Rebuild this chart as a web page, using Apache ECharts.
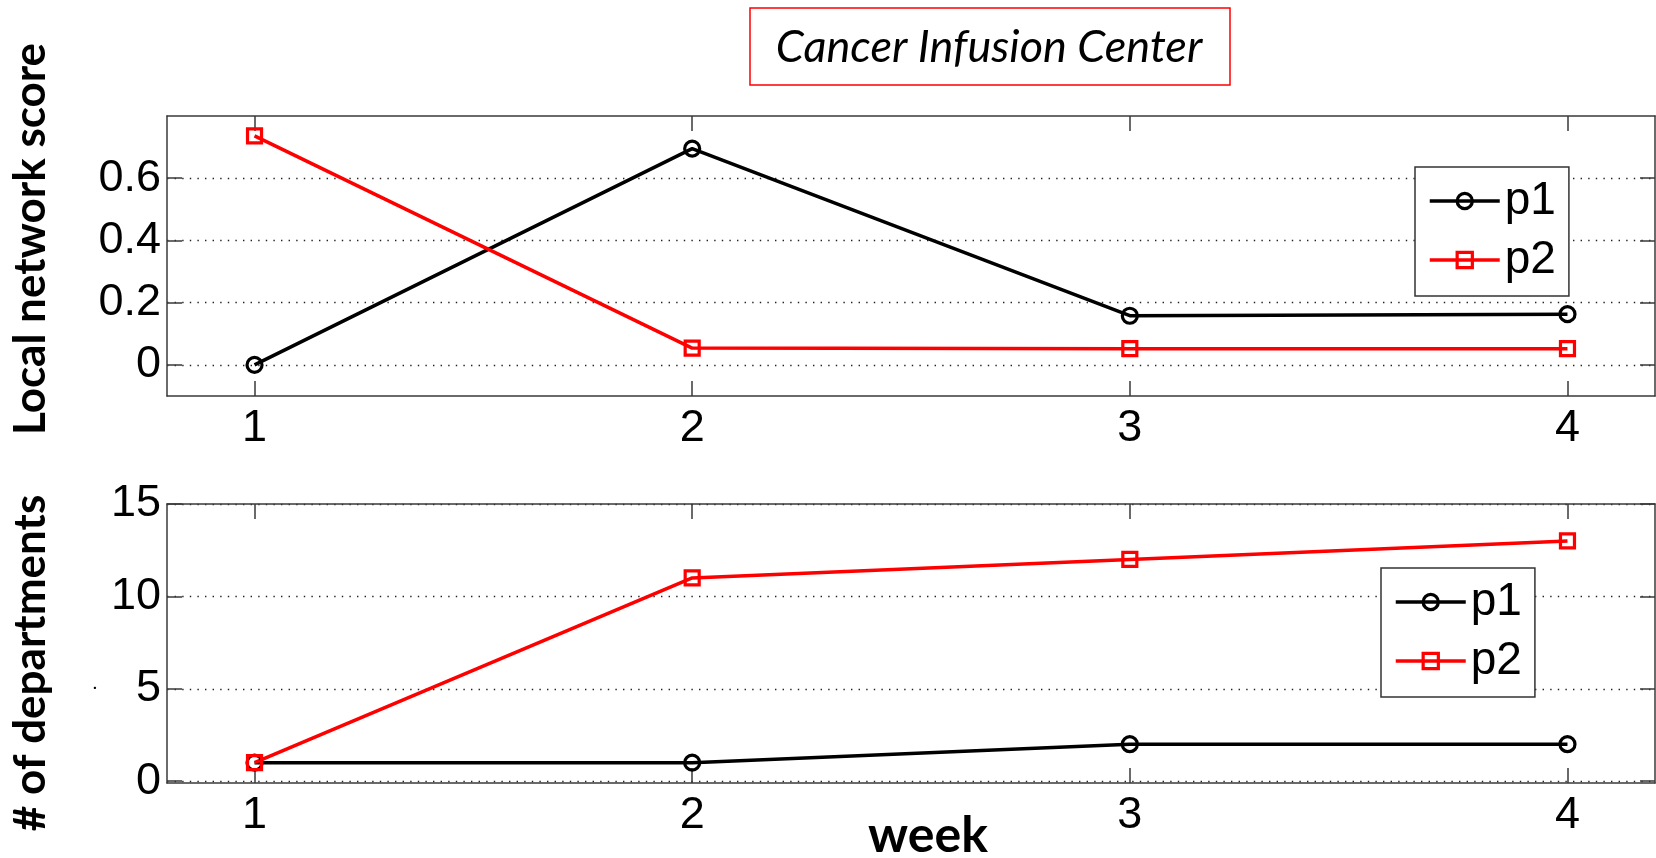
<!DOCTYPE html>
<html>
<head>
<meta charset="utf-8">
<script src="https://cdn.jsdelivr.net/npm/echarts@6/dist/echarts.min.js"></script>
<style>
html,body{margin:0;padding:0;background:#fff;}
#chart{width:1656px;height:858px;}
</style>
</head>
<body>
<div id="chart"></div>
<script>
// ---- data ----
const weeks = [1, 2, 3, 4];
const weekTicks = [1, 2, 3, 4];
const scoreP1 = [0, 0.695, 0.158, 0.163];
const scoreP2 = [0.736, 0.054, 0.052, 0.052];
const deptP1 = [1, 1, 2, 2];
const deptP2 = [1, 11, 12, 13];
const scoreTicks = [0, 0.2, 0.4, 0.6];
const deptTicks = [0, 5, 10, 15];
const seriesNames = ['p1', 'p2'];
const titleText = 'Cancer Infusion Center';
const yName1 = 'Local network score';
const yName2 = '# of departments';
const xName = 'week';

const pairs = (ys) => weeks.map((w, i) => [w, ys[i]]);

const axisColor = '#3a3a3a';
const tickFont = {fontFamily: 'Liberation Sans', fontSize: 45, color: '#000'};

function xAxes(gridIndex) {
  const common = {
    type: 'value', gridIndex: gridIndex, min: 0.8, max: 4.2,
    axisLine: {show: true, onZero: false, lineStyle: {color: axisColor, width: 1.5}},
    axisTick: {show: true, inside: true, length: 15, customValues: weekTicks, lineStyle: {color: axisColor, width: 1.5}},
    splitLine: {show: false}
  };
  return [
    Object.assign({}, common, {position: 'bottom',
      axisLabel: Object.assign({show: true, margin: 10, customValues: weekTicks, formatter: v => String(v)}, tickFont)}),
    Object.assign({}, common, {position: 'top', axisLabel: {show: false}})
  ];
}
function yAxes(gridIndex, min, max, ticks) {
  const common = {
    type: 'value', gridIndex: gridIndex, min: min, max: max,
    axisLine: {show: true, onZero: false, lineStyle: {color: axisColor, width: 1.5}},
    axisTick: {show: true, inside: true, length: 15, customValues: ticks, lineStyle: {color: axisColor, width: 1.5}}
  };
  return [
    Object.assign({}, common, {position: 'left',
      axisLabel: Object.assign({show: true, margin: 6, customValues: ticks, formatter: v => String(v)}, tickFont),
      splitLine: {show: true, lineStyle: {color: '#222', width: 1.4, type: [1.4, 6.2]}}}),
    Object.assign({}, common, {position: 'right', axisLabel: {show: false}, splitLine: {show: false}})
  ];
}
function lineSeries(name, data, xi, yi, color, symbol, size) {
  return {
    name: name, type: 'line', data: data, xAxisIndex: xi, yAxisIndex: yi,
    symbol: symbol, symbolSize: size, showSymbol: true,
    lineStyle: {color: color, width: 3.5},
    itemStyle: {color: 'transparent', borderColor: color, borderWidth: 3.2},
    emphasis: {disabled: true}, z: 3
  };
}
const legendCommon = {
  orient: 'vertical', itemWidth: 70, itemHeight: 19, itemGap: 13,
  padding: [11, 13, 13, 13], borderColor: '#333', borderWidth: 1.5, backgroundColor: '#fff',
  textStyle: {fontFamily: 'Liberation Sans', fontSize: 46, color: '#000', lineHeight: 44},
  lineStyle: {width: 3.5},
  itemStyle: {borderWidth: 3.2},
  data: seriesNames, selectedMode: false, z: 10
};

const option = {
  animation: false,
  backgroundColor: '#fff',
  grid: [
    {left: 167, right: 1, top: 116, height: 280, containLabel: false},
    {left: 167, right: 1, top: 504, height: 279, containLabel: false}
  ],
  xAxis: xAxes(0).concat(xAxes(1)),
  yAxis: yAxes(0, -0.1, 0.8, scoreTicks).concat(yAxes(1, -0.1, 15, deptTicks)),
  legend: [
    Object.assign({left: 1415, top: 167}, legendCommon),
    Object.assign({left: 1381, top: 568}, legendCommon)
  ],
  series: [
    lineSeries(seriesNames[0], pairs(scoreP1), 0, 0, '#000', 'circle', 15),
    lineSeries(seriesNames[1], pairs(scoreP2), 0, 0, '#ff0000', 'rect', 14),
    lineSeries(seriesNames[0], pairs(deptP1), 2, 2, '#000', 'circle', 15),
    lineSeries(seriesNames[1], pairs(deptP2), 2, 2, '#ff0000', 'rect', 14)
  ],
  graphic: [
    {type: 'rect', shape: {x: 750, y: 8, width: 480, height: 77},
     style: {fill: '#fff', stroke: '#ff0000', lineWidth: 1.5}, z: 20},
    {type: 'text', x: 989, y: 47, z: 21,
     style: {text: titleText, font: 'italic 45px Lato', fill: '#000', textAlign: 'center', textVerticalAlign: 'middle'}},
    {type: 'text', x: 31, y: 239, rotation: Math.PI / 2, z: 21,
     style: {text: yName1, font: 'bold 44px Lato', fill: '#000', textAlign: 'center', textVerticalAlign: 'middle'}},
    {type: 'text', x: 31, y: 663, rotation: Math.PI / 2, z: 21,
     style: {text: yName2, font: 'bold 44px Lato', fill: '#000', textAlign: 'center', textVerticalAlign: 'middle'}},
    {type: 'text', x: 95, y: 684, z: 21,
     style: {text: '.', font: 'bold 16px Lato', fill: '#000', textAlign: 'center', textVerticalAlign: 'middle'}},
    {type: 'text', x: 928, y: 836, z: 21,
     style: {text: xName, font: 'bold 50px Lato', fill: '#000', textAlign: 'center', textVerticalAlign: 'middle'}}
  ]
};

const chart = echarts.init(document.getElementById('chart'), null, {renderer: 'canvas'});
chart.setOption(option);
</script>
</body>
</html>
